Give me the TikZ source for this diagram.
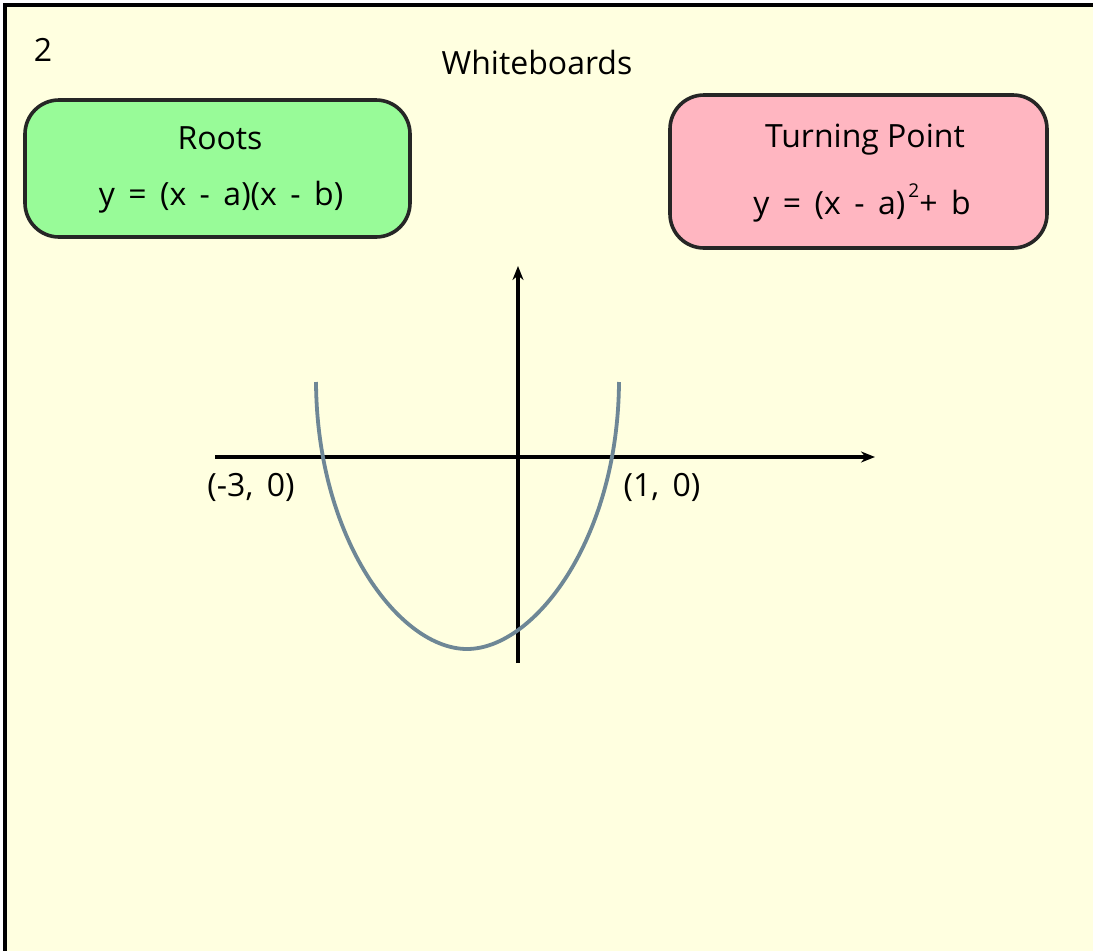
\documentclass[tikz,border=0pt]{standalone}
\usepackage{fontspec}
\setmainfont{Open Sans}
\usetikzlibrary{arrows.meta,positioning}
\definecolor{board}{HTML}{FFFFE0}
\definecolor{rootsfill}{HTML}{98FB98}
\definecolor{turnfill}{HTML}{FFB6C1}
\definecolor{curvegrey}{HTML}{6E8796}
\newcommand\boardfont{\fontsize{32}{38}\selectfont}
\newcommand\widespacing{\spaceskip=0.42em\relax}

\begin{document}
\begin{tikzpicture}[x=1pt,y=-1pt,
  card/.style={draw=black!85,line width=3.6pt,rounded corners=34pt,inner sep=0pt},
  axisline/.style={line width=3.4pt,-{Stealth[length=14pt,width=11pt]}},
  lbl/.style={font=\boardfont,inner sep=0pt},
  wide/.style={font=\boardfont\widespacing,inner sep=0pt}]
  \useasboundingbox (0,0) rectangle (1093,951);
  \fill[board] (5,5) rectangle (1093,951);
  \draw[line width=3.6pt] (5,951) -- (5,5) -- (1093,5);
  \node[lbl] (slide) at (43,50) {2};
  \node[lbl] (title) at (537,62) {Whiteboards};
  % the two reminder cards
  \node[card,fill=rootsfill,minimum width=385pt,minimum height=137pt] (roots) at (217.5,168.5) {};
  \node[lbl] (rootsname) at (220,138) {Roots};
  \node[wide] (rootsform) at (221,197) {y = (x - a)(x - b)};
  \node[card,fill=turnfill,minimum width=377pt,minimum height=153pt] (turn) at (858.5,171.5) {};
  \node[lbl] (turnname) at (865,140) {Turning Point};
  \node[wide] (turnform) at (862,203) {y = (x - a)\raisebox{17pt}{\fontsize{19}{22}\selectfont\,2}+ b};
  % axes
  \coordinate (xleft) at (215,457);
  \coordinate (xright) at (875,457);
  \coordinate (ybottom) at (518,663);
  \coordinate (ytop) at (518,266);
  \draw[axisline] (xleft) -- (xright);
  \draw[axisline] (ybottom) -- (ytop);
  % the parabola
  \coordinate (armleft) at (316,382);
  \coordinate (vertex) at (467,649);
  \coordinate (armright) at (619,382);
  \draw[curvegrey,line width=3.8pt] (armleft) .. controls (317,540) and (400,649) .. (vertex)
    .. controls (534,649) and (618,540) .. (armright);
  \node[wide] (leftroot) at (251,487) {(-3, 0)};
  \node[wide] (rightroot) at (662,487) {(1, 0)};
\end{tikzpicture}
\end{document}
